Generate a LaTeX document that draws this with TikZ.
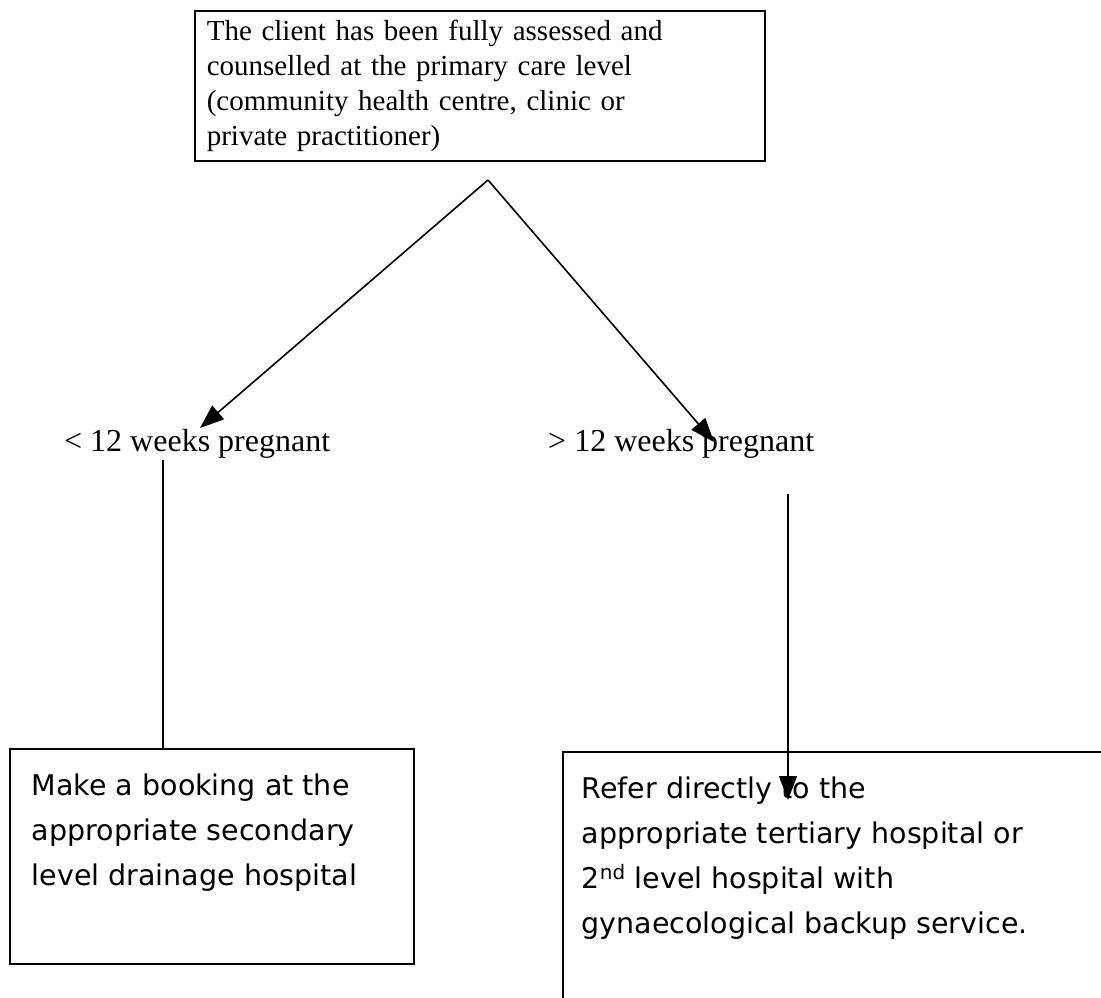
\documentclass[tikz,border=0pt]{standalone}
\usepackage{fontspec}
\setmainfont{Liberation Serif}
\newfontfamily\comicfont{DejaVu Sans}
\usetikzlibrary{arrows.meta}
\tikzstyle{box} = [rectangle, draw=black, line width=1.6pt, inner sep=0pt]
\tikzstyle{stage} = [font=\fontsize{32}{35}\selectfont, inner sep=0pt]
\tikzstyle{note} = [font=\comicfont\fontsize{28.5}{45}\selectfont]
\tikzstyle{arrow} = [line width=1.6pt,-{Triangle[length=24pt,width=18pt]}]
\tikzstyle{link} = [line width=1.6pt]

\begin{document}
\begin{tikzpicture}[x=1pt,y=-1pt]
\path[use as bounding box, clip] (0,0) rectangle (1101,998);

\node (assess) [box, anchor=north west, font=\fontsize{29}{35}\selectfont, text width=546pt, inner xsep=12pt, minimum height=150pt, align=left] at (194,10)
  {The client has been fully assessed and\\ counselled at the primary care level\\ (community health centre, clinic or\\ private practitioner)};

\node (early) [stage, anchor=base west] at (64,451) {< 12 weeks pregnant};
\node (late) [stage, anchor=base west] at (548,451) {> 12 weeks pregnant};

\node (booking) [box, note, anchor=north west, inner xsep=22pt] at (9,748)
  {\parbox[c][215pt][t]{360pt}{\vspace*{25pt}\raggedright Make a booking at the\\ appropriate secondary\\ level drainage hospital}};
\node (refer) [box, note, anchor=north west, inner xsep=19pt] at (562,751)
  {\parbox[c][300pt][t]{560pt}{\vspace*{25pt}\raggedright Refer directly to the\\ appropriate tertiary hospital or\\ 2\textsuperscript{nd} level hospital with\\ gynaecological backup service.}};

\coordinate (split) at (488,180);
\coordinate (earlytip) at (200,428);
\coordinate (latetip) at (714,442);
\coordinate (earlyfoot) at (163,460);
\coordinate (latefoot) at (788,494);
\coordinate (refertip) at (788,800);

\draw [arrow] (split) -- (earlytip);
\draw [arrow] (split) -- (latetip);
\draw [link] (earlyfoot) -- (booking.north -| earlyfoot);
\draw [arrow] (latefoot) -- (refertip);
\end{tikzpicture}
\end{document}
